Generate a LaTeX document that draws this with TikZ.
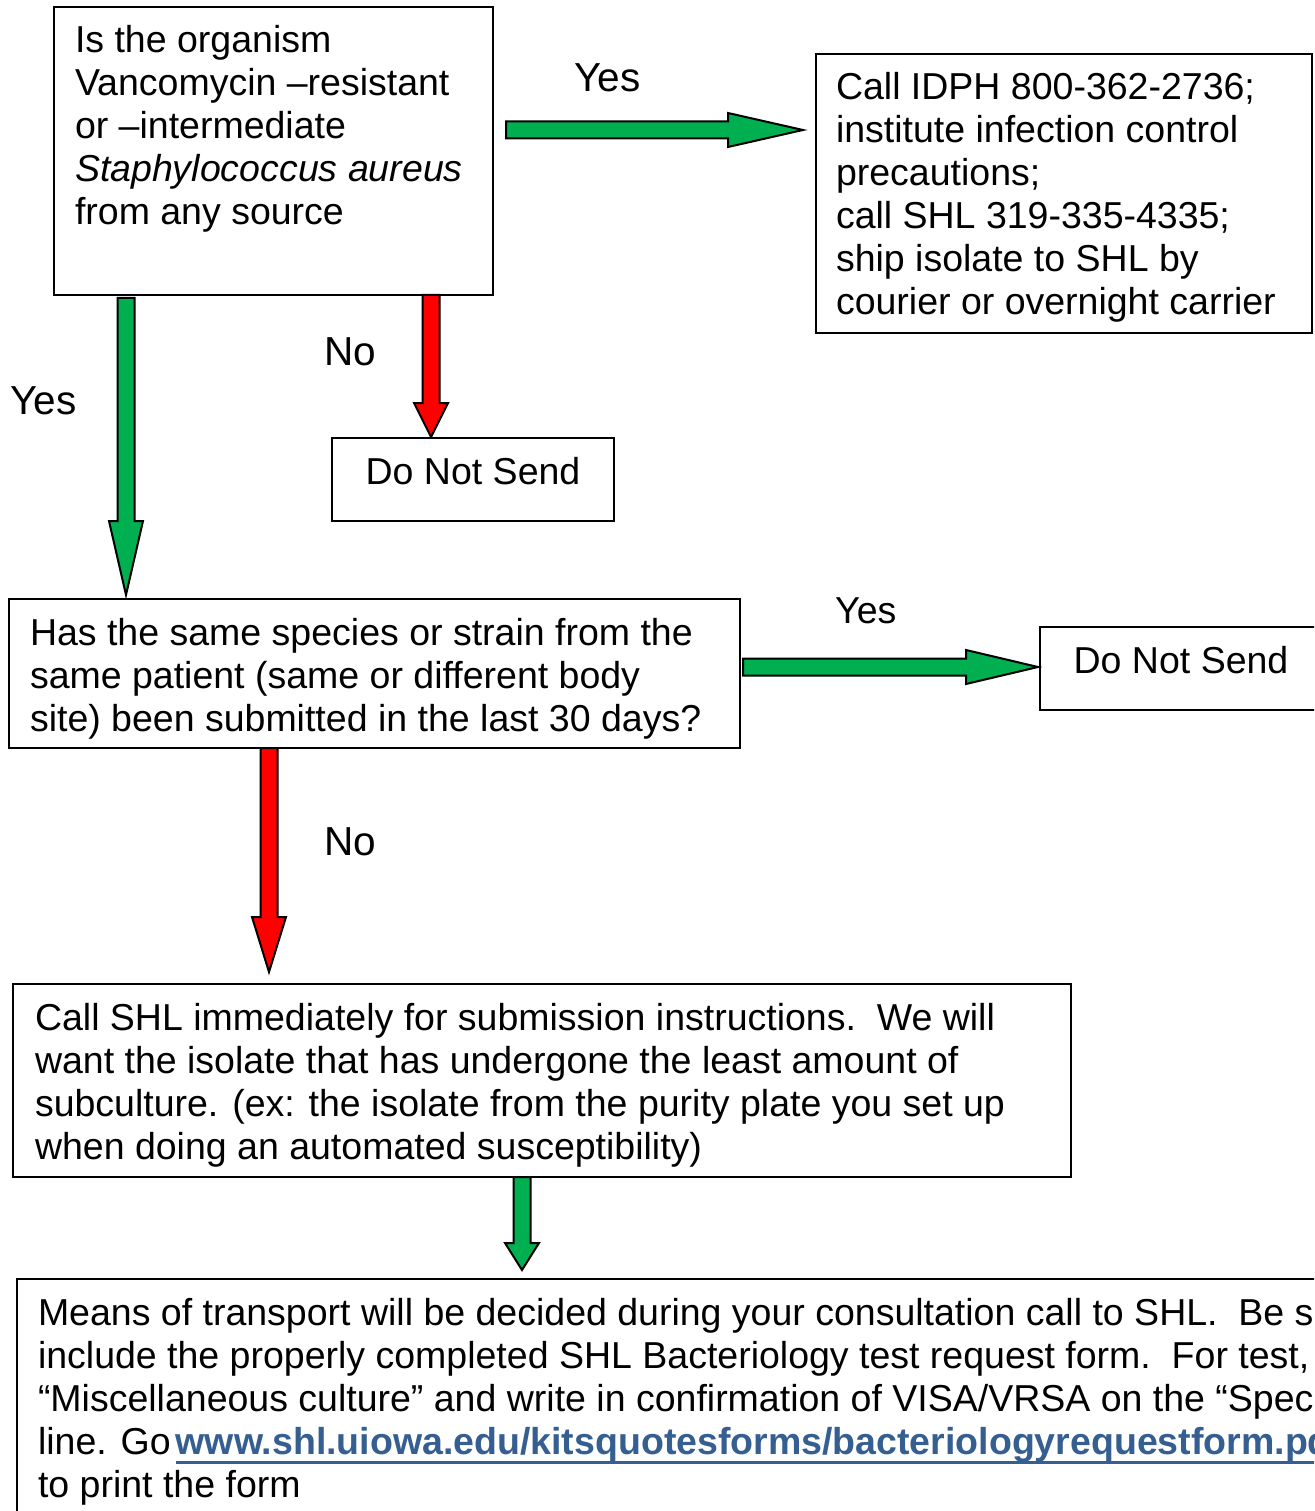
\documentclass[tikz,border=0pt]{standalone}
\usepackage{fontspec}
\setmainfont{Liberation Sans}
\usetikzlibrary{calc}
\definecolor{arrowgreen}{RGB}{0,176,80}
\definecolor{arrowred}{RGB}{255,0,0}
\definecolor{linkblue}{RGB}{54,95,145}
\newcommand\boxtext[4]{\parbox[t][#2][t]{#1}{\raggedright\leftskip=#3\relax\rule{0pt}{46pt}#4}}
\newcommand\boxtextc[3]{\parbox[t][#2][t]{#1}{\centering\rule{0pt}{46pt}#3}}
\newcommand\linkul[1]{{\color{linkblue}\bfseries\setbox0=\hbox{#1}\rlap{\rule[-10pt]{\wd0}{3pt}}\box0}}
% horizontal block arrow: start, end, head length, fill
\newcommand\hblockarrow[4]{%
  \draw[blockarrow, fill=#4] ([yshift=8.5]#1) -- ([xshift=-#3,yshift=8.5]#2) -- ([xshift=-#3,yshift=17]#2) -- (#2)
    -- ([xshift=-#3,yshift=-17]#2) -- ([xshift=-#3,yshift=-8.5]#2) -- ([yshift=-8.5]#1) -- cycle;}
% vertical (downward) block arrow: start, end, head length, fill
\newcommand\vblockarrow[4]{%
  \draw[blockarrow, fill=#4] ([xshift=-8.5]#1) -- ([xshift=-8.5,yshift=#3]#2) -- ([xshift=-17,yshift=#3]#2) -- (#2)
    -- ([xshift=17,yshift=#3]#2) -- ([xshift=8.5,yshift=#3]#2) -- ([xshift=8.5]#1) -- cycle;}
\tikzset{
  every node/.style={font=\fontsize{37.5}{43}\selectfont},
  flowbox/.style={draw=black, line width=2pt, inner sep=0pt, outer sep=0pt, anchor=north west},
  lbl/.style={inner sep=0pt, anchor=base west, font=\fontsize{40.5}{46}\selectfont},
  blockarrow/.style={draw=black, line width=2pt, line join=miter},
}
\begin{document}
\begin{tikzpicture}[x=1pt,y=-1pt]
\useasboundingbox (0,0) rectangle (1314,1511);
\clip (0,0) rectangle (1314,1511);
\fill[white] (0,0) rectangle (1314,1511);

% boxes
\node[flowbox] (b1) at (54,7) {\boxtext{439pt}{288pt}{21pt}{Is the organism\\
Vancomycin –resistant\\
or –intermediate\\
\textit{Staphylococcus aureus}\\
from any source}};

\node[flowbox] (b2) at (816,54) {\boxtext{496pt}{279pt}{20pt}{Call IDPH 800-362-2736;\\
institute infection control\\
precautions;\\
call SHL 319-335-4335;\\
ship isolate to SHL by\\
courier or overnight carrier}};

\node[flowbox] (b3) at (332,438) {\boxtextc{282pt}{83pt}{Do Not Send}};

\node[flowbox] (b4) at (9,599) {\boxtext{731pt}{149pt}{21pt}{Has the same species or strain from the\\
same patient (same or different body\\
site) been submitted in the last 30 days?}};

\node[flowbox] (b5) at (1040,627) {\boxtextc{282pt}{83pt}{Do Not Send}};

\node[flowbox] (b6) at (13,984) {\boxtext{1058pt}{193pt}{22pt}{Call SHL immediately for submission instructions.\ \ We will\\
want the isolate that has undergone the least amount of\\
subculture. (ex: the isolate from the purity plate you set up\\
when doing an automated susceptibility)}};

\node[flowbox] (b7) at (17,1279) {\boxtext{2000pt}{300pt}{21pt}{Means of transport will be decided during your consultation call to SHL.\ \ Be sure to\\
include the properly completed SHL Bacteriology test request form.\ \ For test, check\\
“Miscellaneous culture” and write in confirmation of VISA/VRSA on the “Specimen source”\\
line. Go\hspace{5pt}\linkul{www.shl.uiowa.edu/kitsquotesforms/bacteriologyrequestform.pdf}\\
to print the form}};

% connector end points
\coordinate (a1s) at ([xshift=13,yshift=21]b1.east);
\coordinate (a1e) at ($(a1s -| b2.west)+(-13,0)$);
\coordinate (a2s) at ([xshift=72,yshift=-3]b1.south west);
\coordinate (a2e) at ($(a2s |- b4.north)+(0,-4)$);
\coordinate (a3s) at ([xshift=377]b1.south west);
\coordinate (a3e) at ($(a3s |- b3.north)+(0,-1)$);
\coordinate (a4s) at ([xshift=3,yshift=6.5]b4.east);
\coordinate (a4e) at ($(a4s -| b5.west)+(-2,0)$);
\coordinate (a5s) at ([xshift=260]b4.south west);
\coordinate (a5e) at ($(a5s |- b6.north)+(0,-12)$);
\coordinate (a6s) at ([xshift=509]b6.south west);
\coordinate (a6e) at ($(a6s |- b7.north)+(0,-9)$);

% block arrows
\hblockarrow{a1s}{a1e}{75}{arrowgreen}
\vblockarrow{a2s}{a2e}{74}{arrowgreen}
\vblockarrow{a3s}{a3e}{34}{arrowred}
\hblockarrow{a4s}{a4e}{72}{arrowgreen}
\vblockarrow{a5s}{a5e}{55}{arrowred}
\vblockarrow{a6s}{a6e}{27}{arrowgreen}

% labels
\node[lbl] (yes1) at (574,92) {Yes};
\node[lbl] (no1) at (324,365) {No};
\node[lbl] (yes2) at (10,414) {Yes};
\node[lbl, font=\fontsize{37.5}{43}\selectfont] (yes3) at (835,623) {Yes};
\node[lbl] (no2) at (324,855) {No};
\end{tikzpicture}
\end{document}
